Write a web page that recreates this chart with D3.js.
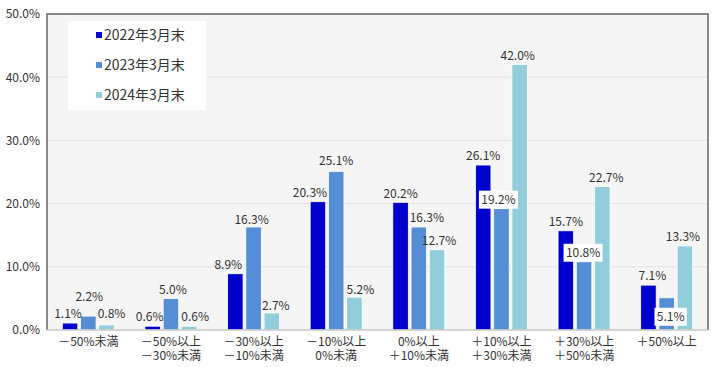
<!DOCTYPE html>
<html>
<head>
<meta charset="utf-8">
<script src="https://cdn.jsdelivr.net/npm/d3@7"></script>
<style>
  body { margin: 0; background: #fff; }
  text { font-family: "Noto Sans CJK JP", "Noto Sans", sans-serif; fill: #333; }
</style>
</head>
<body>
<div id="chart"></div>
<script>
// categories (two-line labels)
var categories = [
  ["－50%未満"],
  ["－50%以上", "－30%未満"],
  ["－30%以上", "－10%未満"],
  ["－10%以上", "0%未満"],
  ["0%以上", "＋10%未満"],
  ["＋10%以上", "＋30%未満"],
  ["＋30%以上", "＋50%未満"],
  ["＋50%以上"]
];
var seriesNames = ["2022年3月末", "2023年3月末", "2024年3月末"];
var v2022 = [1.1, 0.6, 8.9, 20.3, 20.2, 26.1, 15.7, 7.1];
var v2023 = [2.2, 5.0, 16.3, 25.1, 16.3, 19.2, 10.8, 5.1];
var v2024 = [0.8, 0.6, 2.7, 5.2, 12.7, 42.0, 22.7, 13.3];
var yTicks = [0, 10, 20, 30, 40, 50];

var colors = ["#0000cc", "#558ed5", "#92cddc"];

// label nudges (dx, dy) per series, per group, to mimic the original layout
var nudge = [
  [[-2, 0], [-3, 0], [-7, 0], [-8, 0], [0, 0], [0, 0], [0, 0], [4, 0]],
  [[1, -10], [2, 0], [-2, 2], [0, -2], [8, 0], [-3, 0], [-1, 0], [4, 28]],
  [[5, -2], [6, 0], [4, 2], [6, 2], [2, 0], [-2, 0], [4, 0], [-2, 0]]
];
var boxed = [[], [5, 6, 7], []];

var svgWidth = 720, svgHeight = 367;
var margin = { top: 14, right: 12, bottom: 37, left: 47 };
var width = svgWidth - margin.left - margin.right;
var height = svgHeight - margin.top - margin.bottom;

var svg = d3.select("#chart").append("svg")
  .attr("width", svgWidth)
  .attr("height", svgHeight);

var g = svg.append("g")
  .attr("transform", `translate(${margin.left}, ${margin.top})`);

var data = [v2022, v2023, v2024];

var x0 = d3.scaleBand()
  .domain(d3.range(categories.length))
  .range([0, width]);

var x1 = d3.scaleBand()
  .domain(d3.range(seriesNames.length))
  .range([x0.bandwidth() / 2 - 26, x0.bandwidth() / 2 + 26])
  .paddingInner(0.15);

var y = d3.scaleLinear()
  .domain([0, 50])
  .range([height, 0]);

// plot background
g.append("rect")
  .attr("width", width)
  .attr("height", height)
  .attr("fill", "#f5f5f5");

// gridlines
g.selectAll("line.grid")
  .data(yTicks.slice(1, -1))
  .enter().append("line")
  .attr("x1", 0).attr("x2", width)
  .attr("y1", d => y(d)).attr("y2", d => y(d))
  .attr("stroke", "#e2e2e2")
  .attr("stroke-width", 1);

// y axis labels
var yAxis = d3.axisLeft(y).tickValues(yTicks).tickSize(0).tickPadding(7)
  .tickFormat(d => d.toFixed(1) + "%");
var ya = g.append("g").call(yAxis);
ya.select(".domain").remove();
ya.selectAll("text").style("font-size", "12px").attr("fill", "#333");

// bars
seriesNames.forEach(function (name, s) {
  g.append("g").selectAll("rect")
    .data(data[s])
    .enter().append("rect")
    .attr("x", (d, i) => x0(i) + x1(s))
    .attr("y", d => y(d))
    .attr("width", x1.bandwidth())
    .attr("height", d => height - y(d))
    .attr("fill", colors[s])
    .attr("stroke", "#fff")
    .attr("stroke-width", 0.8);
});

// frame: dark left/top/right, light bottom
g.append("path")
  .attr("d", `M0,${height}V0H${width}V${height}`)
  .attr("fill", "none")
  .attr("stroke", "#666")
  .attr("stroke-width", 1.5);
g.append("line")
  .attr("x1", 0).attr("x2", width)
  .attr("y1", height).attr("y2", height)
  .attr("stroke", "#c8c8c8")
  .attr("stroke-width", 1.5);

// value labels
seriesNames.forEach(function (name, s) {
  data[s].forEach(function (v, i) {
    var cx = x0(i) + x1(s) + x1.bandwidth() / 2 + nudge[s][i][0];
    var cy = y(v) - 9 + nudge[s][i][1];
    var lbl = v.toFixed(1) + "%";
    if (boxed[s].indexOf(i) >= 0) {
      var w = lbl.length * 6.6 + 6;
      g.append("rect")
        .attr("x", cx - w / 2).attr("y", cy - 9)
        .attr("width", w).attr("height", 18)
        .attr("fill", "#fff");
    }
    g.append("text")
      .attr("x", cx).attr("y", cy)
      .attr("dy", "0.35em")
      .attr("text-anchor", "middle")
      .style("font-size", "12px")
      .text(lbl);
  });
});

// category labels
categories.forEach(function (lines, i) {
  var t = g.append("text")
    .attr("x", x0(i) + x0.bandwidth() / 2)
    .attr("y", height + 16)
    .attr("text-anchor", "middle")
    .style("font-size", "12px");
  lines.forEach(function (ln, k) {
    t.append("tspan")
      .attr("x", x0(i) + x0.bandwidth() / 2)
      .attr("dy", k === 0 ? 0 : 14)
      .text(ln);
  });
});

// legend
var legend = g.append("g").attr("transform", "translate(21, 7)");
legend.append("rect")
  .attr("width", 138).attr("height", 89)
  .attr("fill", "#fff");
seriesNames.forEach(function (name, s) {
  var row = legend.append("g").attr("transform", `translate(28, ${14 + s * 30})`);
  row.append("rect")
    .attr("x", 0).attr("y", -3)
    .attr("width", 6).attr("height", 6)
    .attr("fill", colors[s]);
  row.append("text")
    .attr("x", 8).attr("dy", "0.36em")
    .style("font-size", "14px")
    .text(name);
});
</script>
</body>
</html>
